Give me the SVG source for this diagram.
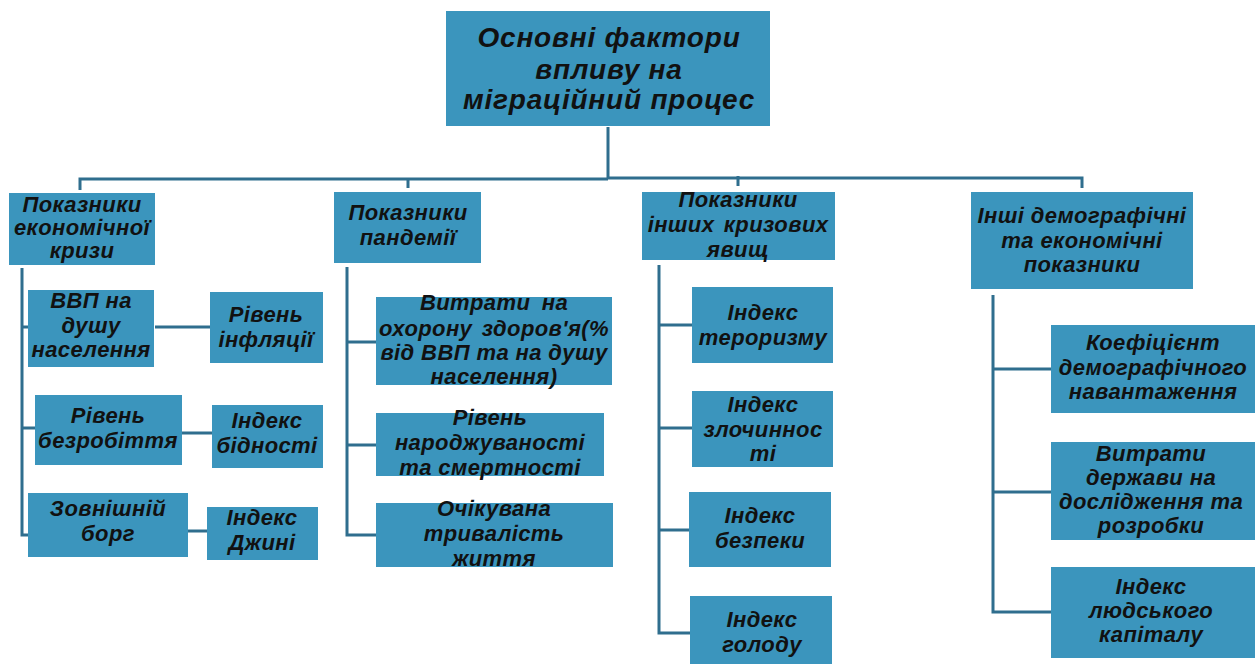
<svg xmlns="http://www.w3.org/2000/svg" width="1255" height="666" viewBox="0 0 1255 666">
<style>
.b{fill:#3b95bd;}
.t{font-family:"Liberation Sans",Arial,sans-serif;font-weight:bold;font-style:italic;font-size:22px;letter-spacing:0.4px;fill:#111;text-anchor:middle;}
.h{font-size:28px;letter-spacing:0.8px;}
.c{fill:none;stroke:#2f6e8e;stroke-width:3;}
</style>
<rect width="1255" height="666" fill="#ffffff"/>
<g id="connectors" class="c">
<path d="M608 127V178M80 190V179H608M608 178H1082V188M408 188V178M738 186V176"/>
<path d="M22 268V535H28M22 327H28M22 428H35M155 327H210M182 433H212M188 531H207"/>
<path d="M347 267V535H376M347 342H376M347 445H376"/>
<path d="M659 265V633H690M659 325H692M659 428H692M659 530H689"/>
<path d="M993 295V612H1051M993 369H1051M993 492H1051"/>
</g>
<g id="root"><rect class="b" x="446" y="11" width="324" height="115"/>
<text class="t h" x="609" y="47">Основні фактори</text><text class="t h" x="609" y="79">впливу на</text><text class="t h" x="609" y="109">міграційний процес</text></g>
<g id="econ"><rect class="b" x="9" y="193" width="146" height="72"/>
<text class="t" x="82" y="212">Показники</text><text class="t" x="82" y="235">економічної</text><text class="t" x="82" y="258">кризи</text></g>
<g id="gdp"><rect class="b" x="28" y="290" width="126" height="77"/>
<text class="t" x="91" y="308">ВВП на</text><text class="t" x="91" y="333">душу</text><text class="t" x="91" y="357">населення</text></g>
<g id="infl"><rect class="b" x="210" y="292" width="113" height="71"/>
<text class="t" x="266" y="322">Рівень</text><text class="t" x="266" y="347">інфляції</text></g>
<g id="unemp"><rect class="b" x="35" y="395" width="147" height="70"/>
<text class="t" x="108" y="423">Рівень</text><text class="t" x="108" y="448">безробіття</text></g>
<g id="poverty"><rect class="b" x="212" y="405" width="111" height="63"/>
<text class="t" x="267" y="428">Індекс</text><text class="t" x="267" y="453">бідності</text></g>
<g id="debt"><rect class="b" x="28" y="493" width="160" height="64"/>
<text class="t" x="108" y="516">Зовнішній</text><text class="t" x="108" y="541">борг</text></g>
<g id="gini"><rect class="b" x="207" y="507" width="111" height="53"/>
<text class="t" x="262" y="525">Індекс</text><text class="t" x="262" y="550">Джині</text></g>
<g id="pandemic"><rect class="b" x="334" y="192" width="147" height="71"/>
<text class="t" x="408" y="220">Показники</text><text class="t" x="408" y="245">пандемії</text></g>
<g id="health"><rect class="b" x="376" y="297" width="236" height="88"/>
<text class="t" x="494" y="310" word-spacing="5">Витрати на</text><text class="t" x="494" y="336" word-spacing="3">охорону здоров'я(%</text><text class="t" x="494" y="360">від ВВП та на душу</text><text class="t" x="494" y="384">населення)</text></g>
<g id="birth"><rect class="b" x="376" y="413" width="228" height="63"/>
<text class="t" x="490" y="425">Рівень</text><text class="t" x="490" y="450">народжуваності</text><text class="t" x="490" y="475">та смертності</text></g>
<g id="life"><rect class="b" x="376" y="503" width="237" height="64"/>
<text class="t" x="494" y="516">Очікувана</text><text class="t" x="494" y="541">тривалість</text><text class="t" x="494" y="566">життя</text></g>
<g id="crisis"><rect class="b" x="642" y="192" width="193" height="68"/>
<text class="t" x="738" y="207">Показники</text><text class="t" x="738" y="232" word-spacing="3">інших кризових</text><text class="t" x="738" y="257">явищ</text></g>
<g id="terror"><rect class="b" x="692" y="287" width="141" height="76"/>
<text class="t" x="763" y="320">Індекс</text><text class="t" x="763" y="345">тероризму</text></g>
<g id="crime"><rect class="b" x="692" y="391" width="141" height="76"/>
<text class="t" x="763" y="412">Індекс</text><text class="t" x="763" y="437">злочиннос</text><text class="t" x="763" y="461">ті</text></g>
<g id="security"><rect class="b" x="689" y="492" width="142" height="75"/>
<text class="t" x="760" y="523">Індекс</text><text class="t" x="760" y="548">безпеки</text></g>
<g id="hunger"><rect class="b" x="690" y="596" width="142" height="68"/>
<text class="t" x="762" y="627">Індекс</text><text class="t" x="762" y="652">голоду</text></g>
<g id="demog"><rect class="b" x="971" y="192" width="222" height="97"/>
<text class="t" x="1082" y="223">Інші демографічні</text><text class="t" x="1082" y="248">та економічні</text><text class="t" x="1082" y="272">показники</text></g>
<g id="dependency"><rect class="b" x="1051" y="325" width="210" height="88"/>
<text class="t" x="1153" y="350">Коефіцієнт</text><text class="t" x="1153" y="375">демографічного</text><text class="t" x="1153" y="399">навантаження</text></g>
<g id="rnd"><rect class="b" x="1051" y="442" width="210" height="98"/>
<text class="t" x="1151" y="461">Витрати</text><text class="t" x="1151" y="485">держави на</text><text class="t" x="1151" y="509">дослідження та</text><text class="t" x="1151" y="533">розробки</text></g>
<g id="human"><rect class="b" x="1051" y="567" width="210" height="91"/>
<text class="t" x="1151" y="594">Індекс</text><text class="t" x="1151" y="618">людського</text><text class="t" x="1151" y="642">капіталу</text></g>
</svg>
